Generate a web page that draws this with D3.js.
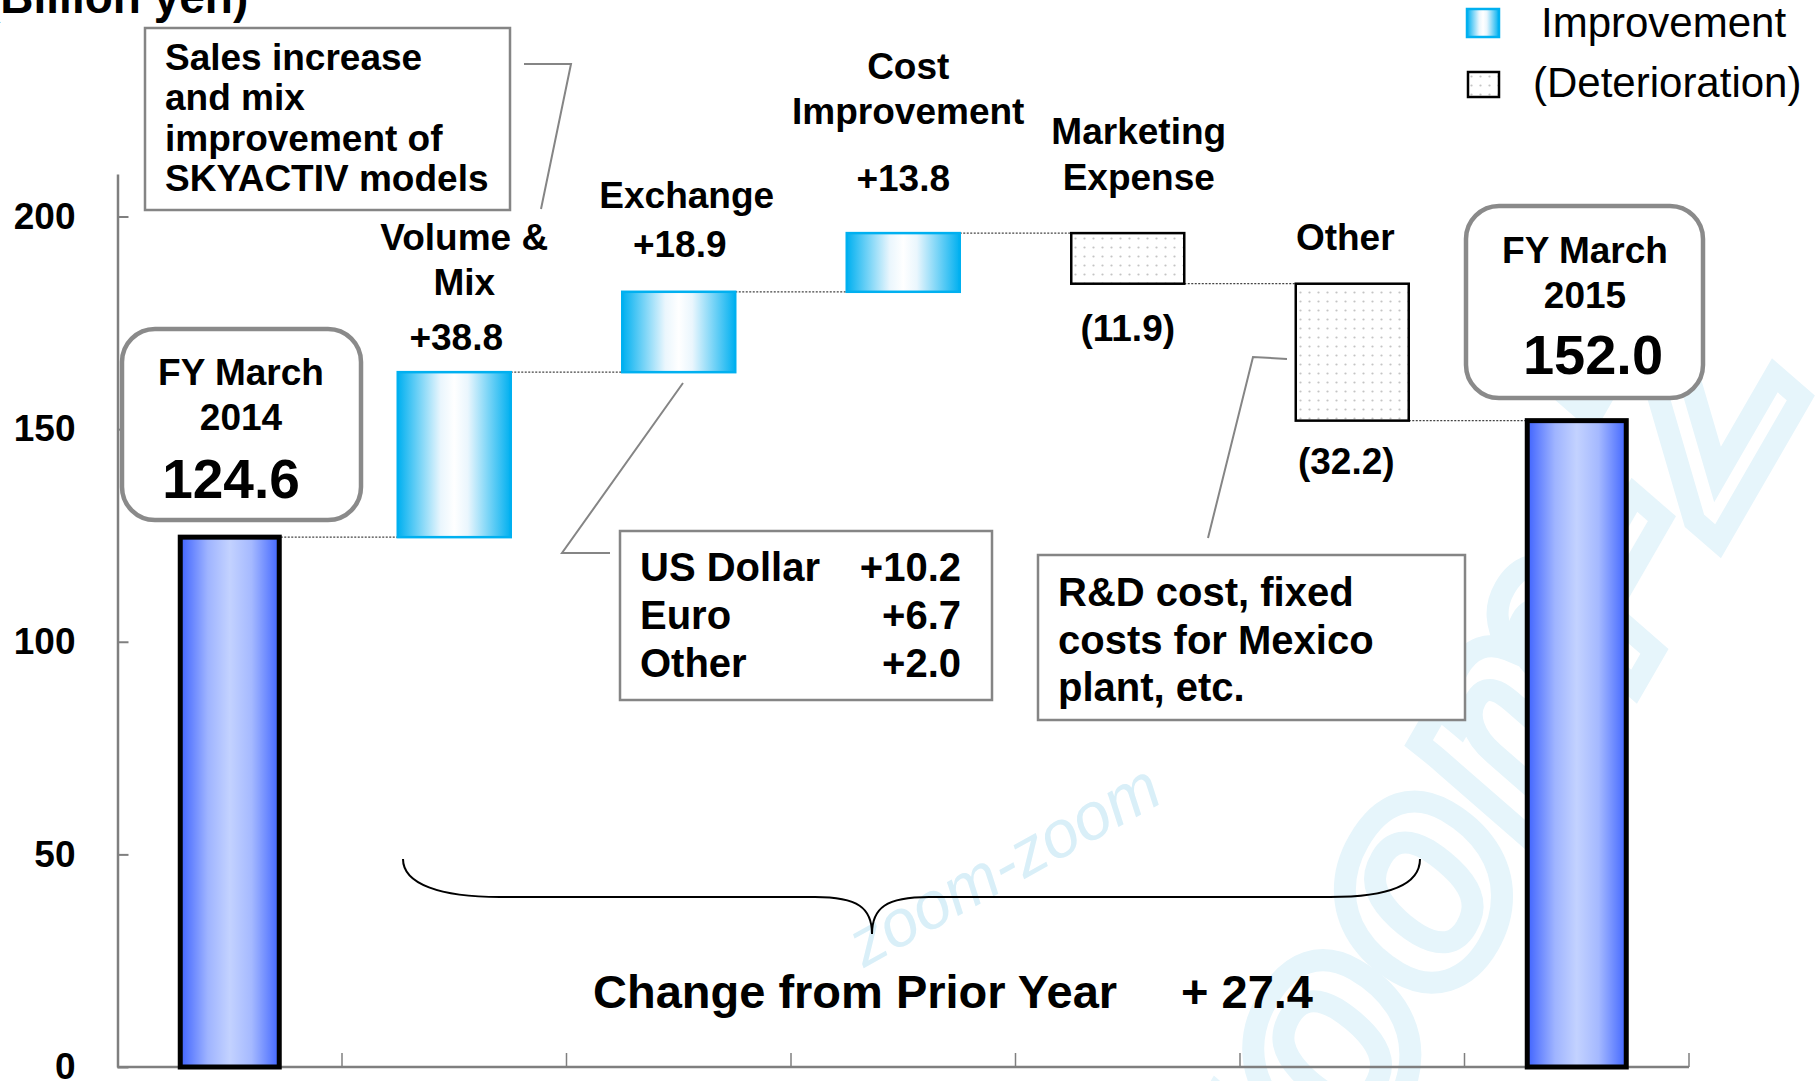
<!DOCTYPE html>
<html><head><meta charset="utf-8">
<script src="https://cdn.jsdelivr.net/npm/d3@7"></script>
<style>
html,body{margin:0;padding:0;background:#fff;overflow:hidden}
text{font-family:"Liberation Sans",Arial,Helvetica,sans-serif}
</style></head><body>
<svg id="c" width="1819" height="1081"></svg>
<script>
// ---------- data ----------
const categories = ["FY March 2014","Volume & Mix","Exchange","Cost Improvement","Marketing Expense","Other","FY March 2015"];
const values = [124.6, 38.8, 18.9, 13.8, -11.9, -32.2, 152.0];
const kinds = ["total","up","up","up","down","down","total"];
const categoryLines = [["FY March","2014"],["Volume &","Mix"],["Exchange"],["Cost","Improvement"],["Marketing","Expense"],["Other"],["FY March","2015"]];
const yTicks = [0,50,100,150,200];
const unitLabel = "(Billion yen)";
const legendLabels = ["Improvement","(Deterioration)"];
const exchangeItems = ["US Dollar","Euro","Other"];
const exchangeValues = [10.2, 6.7, 2.0];
const volumeNote = ["Sales increase","and mix","improvement of","SKYACTIV models"];
const otherNote = ["R&D cost, fixed","costs for Mexico","plant, etc."];
const changeLabel = "Change from Prior Year";

// ---------- layout ----------
const svg = d3.select("#c");
const FONT = '"Liberation Sans",Arial,Helvetica,sans-serif';
const x = d3.scaleBand().domain(categories).range([117.5,1689]).padding(0);
const y = d3.scaleLinear().domain([0,210]).range([1067,174]);
const bw = x.bandwidth();
const cx = c => x(c) + bw/2;

const defs = svg.append("defs");
const gT = defs.append("linearGradient").attr("id","gTotal").attr("x1","0%").attr("x2","100%").attr("y1","0%").attr("y2","0%");
[[0,"#3f63ff"],[0.28,"#9fb4ff"],[0.5,"#c3d2ff"],[0.72,"#a5b9ff"],[1,"#4166ff"]].forEach(s=>gT.append("stop").attr("offset",s[0]).attr("stop-color",s[1]));
const gU = defs.append("linearGradient").attr("id","gUp").attr("x1","0%").attr("x2","100%").attr("y1","0%").attr("y2","0%");
[[0,"#00b0f0"],[0.38,"#eaf6fd"],[0.5,"#ffffff"],[0.62,"#eaf6fd"],[1,"#00b0f0"]].forEach(s=>gU.append("stop").attr("offset",s[0]).attr("stop-color",s[1]));
const pat = defs.append("pattern").attr("id","dots").attr("patternUnits","userSpaceOnUse").attr("width",9).attr("height",9);
pat.append("rect").attr("width",9).attr("height",9).attr("fill","#ffffff");
pat.append("circle").attr("cx",4.5).attr("cy",4.5).attr("r",1.1).attr("fill","#c4c4c4");

// watermark
const wm = svg.append("g").attr("pointer-events","none");
wm.append("text").attr("transform","translate(864,968) rotate(-29)")
  .attr("font-size",66).attr("font-style","italic").attr("fill","#d9eff8").text("zoom-zoom");
wm.append("text").attr("transform","translate(1280,1300) rotate(-60)")
  .attr("font-size",300).attr("font-style","italic").attr("font-weight","bold")
  .attr("fill","none").attr("stroke","#e6f5fb").attr("stroke-width",22).text("zoom-Z");

// waterfall computation
let run = 0;
const steps = values.map((v,i)=>{
  if (kinds[i]==="total"){ run = v; return {c:categories[i], v, kind:kinds[i], lo:0, hi:v, level:v}; }
  const a = run; run = Math.round((run+v)*10)/10;
  return {c:categories[i], v, kind:kinds[i], lo:Math.min(a,run), hi:Math.max(a,run), level:run};
});

// axes
const yAxis = d3.axisLeft(y).tickValues(yTicks).tickSize(-11).tickSizeOuter(0).tickPadding(42);
const ga = svg.append("g").attr("transform","translate(117.5,0)").call(yAxis);
ga.select(".domain").attr("stroke","#7f7f7f").attr("stroke-width",2.5);
ga.selectAll(".tick line").attr("stroke","#7f7f7f").attr("stroke-width",2);
ga.selectAll(".tick text").attr("font-family",FONT).attr("font-size",37).attr("font-weight","bold").attr("fill","#000");

const gx = svg.append("g");
gx.append("line").attr("x1",117.5).attr("x2",x.range()[1]).attr("y1",y(0)).attr("y2",y(0)).attr("stroke","#7f7f7f").attr("stroke-width",2.5);
gx.selectAll("line.t").data(categories).join("line").attr("class","t")
  .attr("x1",c=>x(c)+bw).attr("x2",c=>x(c)+bw).attr("y1",y(0)).attr("y2",y(0)-14)
  .attr("stroke","#7f7f7f").attr("stroke-width",1.5);

// connectors
const halfW = s => s.kind==="total" ? 51 : 56.5;
svg.append("g").selectAll("line").data(steps.slice(0,-1)).join("line")
  .attr("x1",(s,i)=>cx(s.c)+halfW(s)).attr("x2",(s,i)=>cx(steps[i+1].c)-halfW(steps[i+1]))
  .attr("y1",s=>y(s.level)).attr("y2",s=>y(s.level))
  .attr("stroke","#444").attr("stroke-width",1.2).attr("stroke-dasharray","2,1.5");

// bars
const gb = svg.append("g");
gb.selectAll("rect").data(steps).join("rect")
  .attr("x",s=>s.kind==="total" ? cx(s.c)-49.5 : cx(s.c)-56.5)
  .attr("width",s=>s.kind==="total" ? 99 : 113)
  .attr("y",s=>y(s.hi)).attr("height",s=>y(s.lo)-y(s.hi))
  .attr("fill",s=>s.kind==="total" ? "url(#gTotal)" : s.kind==="up" ? "url(#gUp)" : "url(#dots)")
  .attr("stroke",s=>s.kind==="total" ? "#000" : s.kind==="up" ? "#00b0f0" : "#000")
  .attr("stroke-width",s=>s.kind==="total" ? 5 : 2.5);

// helper for text
function txt(g, str, xx, yy, size, opt={}) {
  return g.append("text").attr("x",xx).attr("y",yy).attr("font-size",size)
    .attr("font-weight",opt.weight||"bold").attr("text-anchor",opt.anchor||"middle")
    .attr("fill","#000").text(str);
}
const gl = svg.append("g");

// unit label
txt(gl, unitLabel, -15, 13, 46, {anchor:"start"});

// legend
gl.append("rect").attr("x",1467).attr("y",9).attr("width",32).attr("height",28).attr("fill","url(#gUp)").attr("stroke","#00b0f0").attr("stroke-width",2.5);
gl.append("rect").attr("x",1468).attr("y",72).attr("width",31).attr("height",25).attr("fill","url(#dots)").attr("stroke","#000").attr("stroke-width",2.5);
txt(gl, legendLabels[0], 1541, 37, 42, {anchor:"start", weight:"normal"});
txt(gl, legendLabels[1], 1533, 97, 42, {anchor:"start", weight:"normal"});

// category names & values
const fmtUp = d3.format("+.1f");
const fmtVal = v => v>=0 ? fmtUp(v) : "(" + d3.format(".1f")(-v) + ")";
const nameLayout = {1:{dx:10, ys:[250,295]}, 2:{dx:8, ys:[208]}, 3:{dx:5, ys:[79,124]}, 4:{dx:11, ys:[144,190]}, 5:{dx:-7, ys:[250]}};
const valLayout = {1:{dx:2,y:350}, 2:{dx:1,y:257}, 3:{dx:0,y:191}, 4:{dx:0,y:341}, 5:{dx:-6,y:474}};
[1,2,3,4,5].forEach(i=>{
  const c = categories[i];
  categoryLines[i].forEach((ln,k)=> txt(gl, ln, cx(c)+nameLayout[i].dx, nameLayout[i].ys[k], 37));
  txt(gl, fmtVal(values[i]), cx(c)+valLayout[i].dx, valLayout[i].y, 37);
});

// total boxes
function totalBox(i, bx, by, bwid, bh, ys, tcx, ncx, numSize){
  gl.append("rect").attr("x",bx).attr("y",by).attr("width",bwid).attr("height",bh).attr("rx",33)
    .attr("fill","#fff").attr("stroke","#8a8a8a").attr("stroke-width",4.5);
  categoryLines[i].forEach((ln,k)=>txt(gl, ln, tcx, ys[k], 37));
  txt(gl, d3.format(".1f")(values[i]), ncx, ys[2], numSize);
}
totalBox(0, 122, 329, 239, 191, [385,430,498], 241, 231, 55);
totalBox(6, 1466, 206, 237, 192, [263,308,374], 1585, 1593, 56);

// note boxes
const gray = "#858585";
const lines = svg.append("g").attr("fill","none").attr("stroke",gray).attr("stroke-width",2);
lines.append("polyline").attr("points","524,64 571,64 541,209");
lines.append("polyline").attr("points","683,383 562,553 610,553");
lines.append("polyline").attr("points","1287,359 1253,357 1208,538");

const gn = svg.append("g");
gn.append("rect").attr("x",145).attr("y",28).attr("width",365).attr("height",182).attr("fill","#fff").attr("stroke",gray).attr("stroke-width",2.5);
volumeNote.forEach((ln,k)=>txt(gn, ln, 165, [70,110,151,191][k], 37, {anchor:"start"}));

gn.append("rect").attr("x",620).attr("y",531).attr("width",372).attr("height",169).attr("fill","#fff").attr("stroke",gray).attr("stroke-width",2.5);
exchangeItems.forEach((ln,k)=>{
  txt(gn, ln, 640, [581,629,677][k], 40, {anchor:"start"});
  txt(gn, fmtUp(exchangeValues[k]), 961, [581,629,677][k], 40, {anchor:"end"});
});

gn.append("rect").attr("x",1038).attr("y",555).attr("width",427).attr("height",165).attr("fill","#fff").attr("stroke",gray).attr("stroke-width",2.5);
otherNote.forEach((ln,k)=>txt(gn, ln, 1058, [606,654,701][k], 40, {anchor:"start"}));

// brace + change label
svg.append("path")
  .attr("d","M403,859 C403,884 440,897 500,897 L815,897 C858,897 872,908 872,934 C872,908 886,897 929,897 L1330,897 C1390,897 1420,884 1420,859")
  .attr("fill","none").attr("stroke","#000").attr("stroke-width",2);
const change = Math.round((values[6]-values[0])*10)/10;
txt(gl, changeLabel, 593, 1008, 47, {anchor:"start"});
txt(gl, "+ " + d3.format(".1f")(change), 1181, 1008, 47, {anchor:"start"});
</script>
</body></html>
